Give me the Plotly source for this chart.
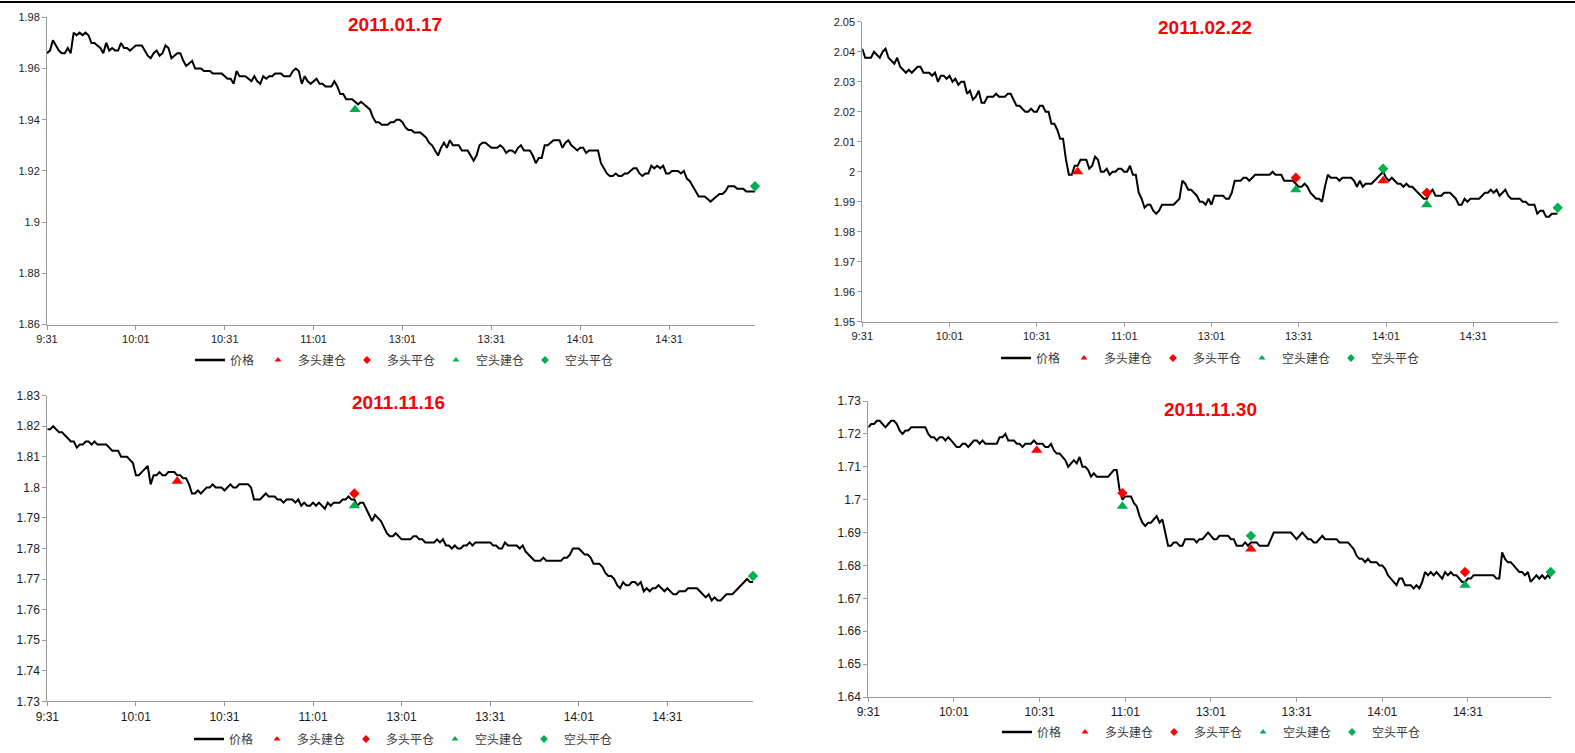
import plotly.graph_objects as go

W, H = 1575, 753

# ---------------- data ----------------
# minute labels (category axis): morning 9:31-11:30, afternoon 13:01-15:00
times = []
for h0, m0 in [(9, 31), (13, 1)]:
    for k in range(120):
        t = h0 * 60 + m0 + k
        times.append(f"{t // 60}:{t % 60:02d}")

x_tick_labels = ["9:31", "10:01", "10:31", "11:01", "13:01", "13:31", "14:01", "14:31"]

titles = ["2011.01.17", "2011.02.22", "2011.11.16", "2011.11.30"]

p1_am = [1.966,1.967,1.971,1.969,1.967,1.966,1.966,1.968,1.966,1.974,
         1.973,1.974,1.973,1.974,1.973,1.970,1.970,1.969,1.968,1.966,
         1.970,1.967,1.968,1.967,1.967,1.970,1.968,1.968,1.967,1.968,
         1.969,1.969,1.969,1.967,1.965,1.964,1.966,1.967,1.965,1.966,
         1.969,1.968,1.964,1.965,1.966,1.966,1.963,1.961,1.962,1.963,
         1.960,1.960,1.960,1.959,1.959,1.959,1.958,1.958,1.958,1.958,
         1.957,1.956,1.956,1.954,1.959,1.957,1.957,1.957,1.956,1.955,
         1.957,1.955,1.954,1.957,1.956,1.957,1.957,1.958,1.958,1.958,
         1.957,1.957,1.957,1.959,1.960,1.959,1.954,1.957,1.955,1.954,
         1.955,1.956,1.954,1.954,1.953,1.953,1.953,1.955,1.953,1.950,
         1.950,1.948,1.948,1.948,1.947,1.946,1.947,1.946,1.945,1.944,
         1.941,1.939,1.939,1.938,1.938,1.938,1.939,1.939,1.940,1.940]
p1_pm = [1.939,1.937,1.936,1.936,1.935,1.935,1.935,1.934,1.933,1.931,
         1.930,1.928,1.926,1.929,1.931,1.929,1.932,1.930,1.930,1.930,
         1.928,1.928,1.928,1.926,1.924,1.926,1.930,1.931,1.931,1.930,
         1.929,1.929,1.929,1.930,1.929,1.927,1.928,1.928,1.927,1.929,
         1.930,1.928,1.928,1.928,1.926,1.923,1.925,1.925,1.930,1.930,
         1.931,1.932,1.932,1.932,1.929,1.931,1.932,1.930,1.929,1.928,
         1.929,1.929,1.927,1.928,1.928,1.928,1.928,1.923,1.921,1.919,
         1.918,1.918,1.919,1.918,1.918,1.919,1.919,1.920,1.921,1.921,
         1.919,1.918,1.919,1.919,1.922,1.921,1.922,1.921,1.922,1.919,
         1.919,1.920,1.920,1.920,1.919,1.920,1.917,1.916,1.914,1.912,
         1.910,1.910,1.910,1.909,1.908,1.909,1.910,1.911,1.911,1.912,
         1.914,1.914,1.914,1.913,1.913,1.913,1.912,1.912,1.912,1.912]

p2_am = [2.041,2.038,2.038,2.038,2.040,2.039,2.038,2.040,2.041,2.038,
         2.037,2.036,2.038,2.035,2.034,2.033,2.034,2.033,2.034,2.035,
         2.035,2.033,2.033,2.033,2.032,2.033,2.030,2.032,2.032,2.031,
         2.032,2.030,2.031,2.029,2.030,2.030,2.026,2.027,2.024,2.025,
         2.027,2.023,2.023,2.025,2.025,2.025,2.026,2.025,2.025,2.025,
         2.026,2.026,2.024,2.022,2.022,2.021,2.020,2.020,2.021,2.020,
         2.020,2.022,2.022,2.020,2.020,2.016,2.016,2.014,2.011,2.011,
         2.004,1.999,1.999,2.002,2.002,2.004,2.004,2.004,2.001,2.002,
         2.005,2.004,2.000,2.000,2.001,1.999,2.000,2.000,2.001,2.001,
         2.000,2.000,2.002,1.999,1.999,1.993,1.991,1.988,1.989,1.989,
         1.987,1.986,1.987,1.989,1.989,1.989,1.989,1.989,1.990,1.991,
         1.997,1.996,1.994,1.994,1.993,1.992,1.990,1.990,1.989,1.991]
p2_pm = [1.989,1.992,1.992,1.992,1.992,1.991,1.991,1.993,1.997,1.997,
         1.997,1.998,1.998,1.997,1.998,1.999,1.999,1.999,1.999,1.999,
         1.999,2.000,1.999,1.999,1.999,1.997,1.997,1.997,1.997,1.996,
         1.995,1.995,1.996,1.995,1.993,1.992,1.991,1.991,1.990,1.995,
         1.999,1.998,1.998,1.998,1.997,1.998,1.998,1.998,1.998,1.997,
         1.995,1.997,1.995,1.996,1.996,1.996,1.997,1.998,1.999,2.000,
         1.998,1.997,1.998,1.997,1.996,1.996,1.995,1.996,1.995,1.995,
         1.994,1.993,1.992,1.991,1.991,1.993,1.994,1.992,1.992,1.992,
         1.993,1.993,1.993,1.992,1.991,1.989,1.989,1.991,1.990,1.991,
         1.991,1.991,1.991,1.992,1.993,1.993,1.994,1.993,1.994,1.992,
         1.993,1.994,1.992,1.991,1.991,1.991,1.991,1.990,1.990,1.989,
         1.989,1.989,1.986,1.987,1.987,1.985,1.985,1.986,1.986,1.986]

p3_am = [1.819,1.819,1.820,1.819,1.818,1.818,1.817,1.816,1.815,1.815,
         1.813,1.814,1.814,1.815,1.815,1.814,1.815,1.814,1.814,1.814,
         1.814,1.813,1.812,1.812,1.812,1.810,1.810,1.810,1.809,1.808,
         1.804,1.804,1.805,1.806,1.807,1.801,1.804,1.804,1.805,1.804,
         1.804,1.805,1.805,1.805,1.804,1.804,1.803,1.803,1.801,1.798,
         1.798,1.799,1.798,1.799,1.800,1.800,1.801,1.800,1.800,1.800,
         1.799,1.800,1.801,1.800,1.800,1.801,1.801,1.801,1.801,1.800,
         1.796,1.796,1.796,1.797,1.798,1.797,1.797,1.797,1.796,1.796,
         1.795,1.796,1.796,1.796,1.795,1.796,1.794,1.795,1.794,1.794,
         1.795,1.794,1.795,1.794,1.793,1.795,1.794,1.795,1.795,1.795,
         1.796,1.796,1.797,1.796,1.796,1.794,1.795,1.795,1.793,1.791,
         1.789,1.791,1.790,1.789,1.787,1.785,1.784,1.784,1.785,1.784]
p3_pm = [1.783,1.783,1.783,1.783,1.784,1.784,1.783,1.783,1.782,1.782,
         1.782,1.782,1.783,1.782,1.783,1.781,1.781,1.780,1.781,1.780,
         1.780,1.781,1.781,1.782,1.781,1.782,1.782,1.782,1.782,1.782,
         1.782,1.781,1.781,1.780,1.780,1.782,1.781,1.781,1.781,1.781,
         1.780,1.781,1.779,1.778,1.777,1.776,1.776,1.776,1.777,1.776,
         1.776,1.776,1.776,1.776,1.776,1.777,1.777,1.778,1.780,1.780,
         1.780,1.779,1.778,1.778,1.777,1.775,1.775,1.775,1.774,1.772,
         1.771,1.771,1.770,1.768,1.767,1.769,1.768,1.768,1.769,1.769,
         1.768,1.769,1.766,1.767,1.766,1.767,1.767,1.768,1.767,1.766,
         1.767,1.766,1.765,1.765,1.766,1.766,1.766,1.767,1.767,1.767,
         1.767,1.766,1.765,1.764,1.765,1.763,1.764,1.763,1.763,1.764,
         1.765,1.765,1.765,1.766,1.767,1.768,1.769,1.770,1.769,1.769]

p4_am = [1.722,1.723,1.723,1.724,1.724,1.723,1.722,1.723,1.724,1.724,
         1.723,1.721,1.720,1.721,1.721,1.722,1.722,1.722,1.722,1.722,
         1.722,1.720,1.719,1.719,1.718,1.719,1.719,1.718,1.719,1.718,
         1.717,1.716,1.716,1.717,1.717,1.716,1.717,1.718,1.718,1.717,
         1.718,1.717,1.717,1.717,1.717,1.717,1.719,1.719,1.720,1.718,
         1.718,1.718,1.717,1.717,1.716,1.717,1.717,1.717,1.718,1.717,
         1.717,1.717,1.716,1.716,1.717,1.715,1.714,1.714,1.713,1.712,
         1.710,1.711,1.712,1.711,1.713,1.710,1.710,1.709,1.707,1.708,
         1.707,1.707,1.707,1.707,1.707,1.708,1.709,1.709,1.703,1.700,
         1.701,1.701,1.701,1.699,1.698,1.695,1.693,1.692,1.693,1.693,
         1.694,1.695,1.693,1.694,1.690,1.686,1.686,1.687,1.687,1.686,
         1.686,1.688,1.688,1.688,1.688,1.687,1.688,1.688,1.689,1.690]
p4_pm = [1.689,1.688,1.688,1.689,1.689,1.689,1.689,1.688,1.688,1.686,
         1.686,1.686,1.687,1.686,1.687,1.687,1.687,1.686,1.686,1.686,
         1.686,1.688,1.690,1.690,1.690,1.690,1.690,1.690,1.690,1.689,
         1.688,1.689,1.690,1.689,1.688,1.688,1.687,1.687,1.688,1.689,
         1.688,1.688,1.688,1.688,1.688,1.687,1.687,1.687,1.687,1.686,
         1.685,1.683,1.682,1.682,1.681,1.682,1.681,1.681,1.681,1.680,
         1.680,1.679,1.677,1.676,1.675,1.674,1.676,1.676,1.674,1.674,
         1.674,1.673,1.674,1.673,1.675,1.678,1.677,1.678,1.677,1.678,
         1.677,1.676,1.678,1.677,1.678,1.677,1.677,1.676,1.675,1.675,
         1.676,1.676,1.677,1.677,1.677,1.677,1.677,1.677,1.677,1.677,
         1.676,1.676,1.684,1.682,1.681,1.681,1.680,1.679,1.678,1.678,
         1.677,1.678,1.675,1.676,1.677,1.676,1.677,1.676,1.677,1.676]

prices = [p1_am + p1_pm, p2_am + p2_pm, p3_am + p3_pm, p4_am + p4_pm]

# signal markers: (times, prices) per panel
long_open_t  = [[], ["10:45", "14:00"], ["10:15"], ["10:30", "13:15"]]
long_open_v  = [[], [2.000, 1.997], [1.802], [1.715, 1.685]]
long_close_t = [[], ["13:30", "14:15"], ["11:15"], ["11:00", "14:30"]]
long_close_v = [[], [1.998, 1.993], [1.798], [1.702, 1.678]]
short_open_t = [["11:15"], ["13:30", "14:15"], ["11:15"], ["11:00", "14:30"]]
short_open_v = [[1.944], [1.994, 1.989], [1.794], [1.698, 1.674]]
short_close_t = [["15:00"], ["14:00", "15:00"], ["15:00"], ["13:15", "15:00"]]
short_close_v = [[1.914], [2.001, 1.988], [1.771], [1.689, 1.678]]

y_ticks = [
    [1.86, 1.88, 1.90, 1.92, 1.94, 1.96, 1.98],
    [1.95, 1.96, 1.97, 1.98, 1.99, 2.00, 2.01, 2.02, 2.03, 2.04, 2.05],
    [1.73, 1.74, 1.75, 1.76, 1.77, 1.78, 1.79, 1.80, 1.81, 1.82, 1.83],
    [1.64, 1.65, 1.66, 1.67, 1.68, 1.69, 1.70, 1.71, 1.72, 1.73],
]
y_tick_text = [
    ["1.86", "1.88", "1.9", "1.92", "1.94", "1.96", "1.98"],
    ["1.95", "1.96", "1.97", "1.98", "1.99", "2", "2.01", "2.02", "2.03", "2.04", "2.05"],
    ["1.73", "1.74", "1.75", "1.76", "1.77", "1.78", "1.79", "1.8", "1.81", "1.82", "1.83"],
    ["1.64", "1.65", "1.66", "1.67", "1.68", "1.69", "1.7", "1.71", "1.72", "1.73"],
]

legend_names = ["价格", "多头建仓", "多头平仓", "空头建仓", "空头平仓"]

# ---------------- layout geometry (pixels) ----------------
plot_px = [  # x0, x1, y_top, y_bottom
    (47.0, 755.0, 17.3, 324.5),
    (862.3, 1557.7, 21.7, 321.7),
    (47.3, 753.0, 395.7, 701.3),
    (868.3, 1550.7, 401.0, 697.0),
]
title_px = [(395, 25), (1205, 28), (398, 402), (1210, 410)]
legend_px = [(402, 360), (1208, 358), (401, 739), (1209, 732)]

RED = "#FF0000"
GREEN = "#00B050"
wide_font = "Liberation Sans, Arial, sans-serif"
narrow_font = "Liberation Sans Narrow, Arial Narrow, Liberation Sans, sans-serif"
cjk_font = "Noto Sans CJK SC, sans-serif"

fig = go.Figure()
layout = dict(
    width=W, height=H, autosize=False,
    margin=dict(l=0, r=0, t=0, b=0, pad=0, autoexpand=False),
    paper_bgcolor="white", plot_bgcolor="white",
    annotations=[], shapes=[],
)

for p in range(4):
    sfx = "" if p == 0 else str(p + 1)
    xa, ya = "x" + sfx, "y" + sfx
    leg = "legend" + sfx
    x0, x1, yt, yb = plot_px[p]
    font_ax = wide_font if p < 2 else narrow_font
    fsize = 11 if p < 2 else 12

    fig.add_trace(go.Scatter(x=times, y=prices[p], mode="lines", xaxis=xa, yaxis=ya,
                             line=dict(color="black", width=2), showlegend=False,
                             hoverinfo="skip"))
    specs = [
        (long_open_t[p], long_open_v[p], "triangle-up", RED, 10),
        (long_close_t[p], long_close_v[p], "diamond", RED, 8),
        (short_open_t[p], short_open_v[p], "triangle-up", GREEN, 10),
        (short_close_t[p], short_close_v[p], "diamond", GREEN, 8),
    ]
    for tt, vv, sym, col, sz in specs:
        if tt:
            fig.add_trace(go.Scatter(x=tt, y=vv, mode="markers", xaxis=xa, yaxis=ya,
                                     marker=dict(symbol=sym, color=col, size=sz),
                                     showlegend=False, cliponaxis=False))
    # legend entries
    fig.add_trace(go.Scatter(x=[None], y=[None], mode="lines", xaxis=xa, yaxis=ya,
                             line=dict(color="black", width=2.5), name=legend_names[0],
                             legend=leg, legendwidth=23))
    for (tt, vv, sym, col, sz), nm in zip(specs, legend_names[1:]):
        fig.add_trace(go.Scatter(x=[None], y=[None], mode="markers", xaxis=xa, yaxis=ya,
                                 marker=dict(symbol=sym, color=col, size=6),
                                 name=nm, legend=leg, legendwidth=44))

    layout["xaxis" + sfx] = dict(
        domain=[x0 / W, x1 / W], anchor=ya, type="category",
        categoryorder="array", categoryarray=times, range=[0, len(times) - 1],
        tickmode="array", tickvals=x_tick_labels, ticktext=x_tick_labels,
        ticks="outside", ticklen=4, tickcolor="#999999", showline=True,
        linecolor="#999999", linewidth=1, showgrid=False, zeroline=False,
        tickfont=dict(family=font_ax, size=fsize, color="#1a1a1a"),
        fixedrange=True, automargin=False,
    )
    layout["yaxis" + sfx] = dict(
        domain=[1 - yb / H, 1 - yt / H], anchor=xa,
        range=[y_ticks[p][0], y_ticks[p][-1]],
        tickmode="array", tickvals=y_ticks[p], ticktext=y_tick_text[p],
        ticks="outside", ticklen=4, tickcolor="#999999", showline=True,
        linecolor="#999999", linewidth=1, showgrid=False, zeroline=False,
        tickfont=dict(family=font_ax, size=fsize, color="#1a1a1a"),
        fixedrange=True, automargin=False,
    )
    lx, ly = legend_px[p]
    layout[leg] = dict(
        orientation="h", x=lx / W, y=1 - ly / H, xanchor="center", yanchor="middle",
        font=dict(family=cjk_font, size=12, color="#3a3a3a"),
        bgcolor="rgba(0,0,0,0)", itemwidth=30, tracegroupgap=0,
    )
    tx, ty = title_px[p]
    layout["annotations"].append(dict(
        text="<b>" + titles[p] + "</b>", xref="paper", yref="paper",
        x=tx / W, y=1 - ty / H, xanchor="center", yanchor="middle", showarrow=False,
        font=dict(family=font_ax, size=19, color=RED),
    ))

layout["shapes"].append(dict(type="line", xref="paper", yref="paper",
                             x0=0, x1=1, y0=1 - 2 / H, y1=1 - 2 / H,
                             line=dict(color="black", width=2)))

fig.update_layout(**layout)
fig.write_html(
    "out.html",
    config={"responsive": False, "displayModeBar": False},
    post_script="document.body.style.margin='0';document.body.style.padding='0';"
                "document.body.style.overflow='hidden';",
)
